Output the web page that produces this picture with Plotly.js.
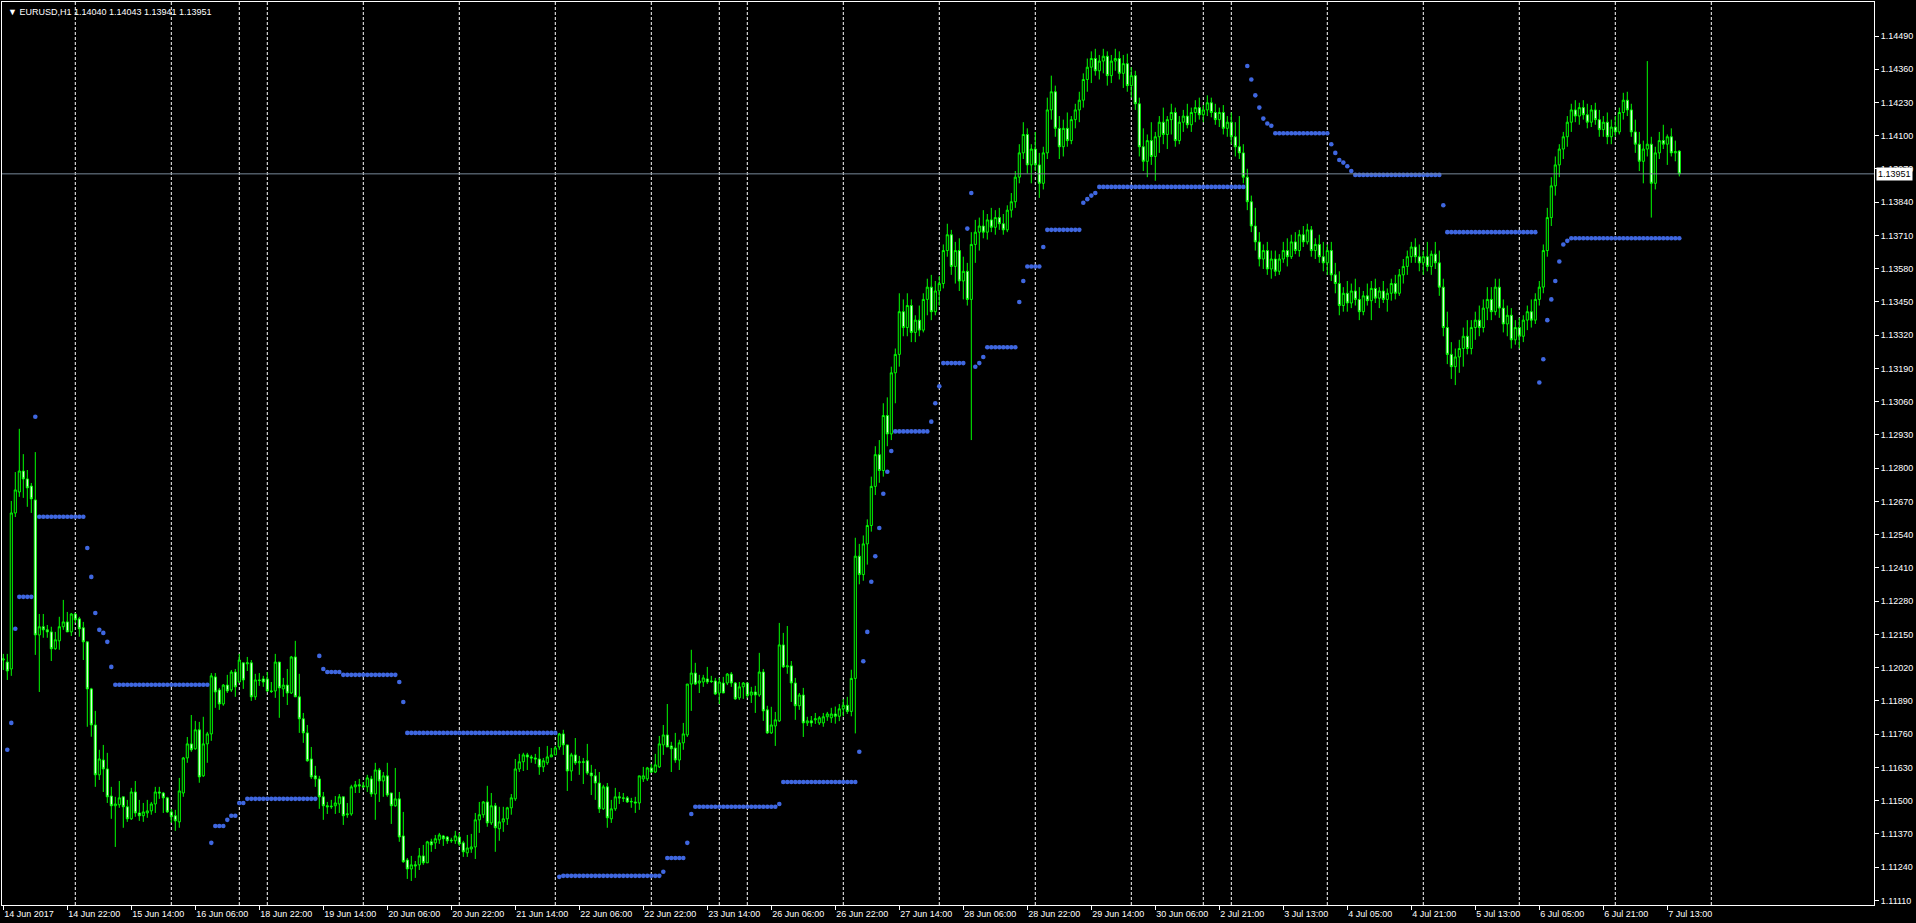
<!DOCTYPE html>
<html><head><meta charset="utf-8">
<script src="https://cdn.plot.ly/plotly-3.0.1.min.js"></script>
<style>html,body{margin:0;padding:0;background:#000;overflow:hidden}#chart{width:1916px;height:923px}</style>
</head><body><div id="chart"></div>
<script>
const dayNames = ['14 Jun','15 Jun','16 Jun','18 Jun','19 Jun','20 Jun','21 Jun','22 Jun','23 Jun','25 Jun','26 Jun','27 Jun','28 Jun','29 Jun','30 Jun','2 Jul','3 Jul','4 Jul','5 Jul','6 Jul','7 Jul','8 Jul'];
const dayStartHour = [6,0,0,17,0,0,0,0,0,17,0,0,0,0,0,17,0,0,0,0,0,0];
const dayBarCount = [18,24,17,7,24,24,24,24,17,7,24,24,24,24,18,7,24,24,24,24,24,1];

const openP = [
1.12050,1.12042,1.12015,1.12625,1.12707,1.12789,1.12758,1.12730,1.12676,1.12148,
1.12180,1.12168,1.12160,1.12094,1.12125,1.12180,1.12199,1.12160,1.12230,1.12211,
1.12176,1.12121,1.11937,1.11796,1.11601,1.11659,1.11624,1.11518,1.11480,1.11484,
1.11515,1.11476,1.11429,1.11534,1.11452,1.11441,1.11452,1.11460,1.11487,1.11534,
1.11530,1.11511,1.11456,1.11441,1.11417,1.11530,1.11667,1.11722,1.11703,1.11777,
1.11597,1.11722,1.11761,1.11984,1.11933,1.11878,1.11952,1.11933,1.12003,1.11964,
1.12039,1.12035,1.12039,1.11906,1.11972,1.11976,1.11976,1.11929,1.11929,1.12042,
1.11937,1.11952,1.11921,1.12062,1.11906,1.11820,1.11765,1.11663,1.11597,1.11585,
1.11515,1.11480,1.11476,1.11480,1.11487,1.11515,1.11445,1.11448,1.11554,1.11562,
1.11558,1.11554,1.11585,1.11526,1.11620,1.11577,1.11597,1.11530,1.11480,1.11507,
1.11362,1.11268,1.11233,1.11249,1.11249,1.11284,1.11257,1.11339,1.11335,1.11347,
1.11362,1.11358,1.11343,1.11343,1.11358,1.11335,1.11296,1.11311,1.11319,1.11425,
1.11445,1.11495,1.11413,1.11480,1.11390,1.11417,1.11429,1.11472,1.11507,1.11624,
1.11652,1.11679,1.11671,1.11667,1.11663,1.11632,1.11648,1.11671,1.11679,1.11710,
1.11761,1.11718,1.11616,1.11679,1.11648,1.11652,1.11656,1.11608,1.11597,1.11569,
1.11468,1.11554,1.11429,1.11468,1.11515,1.11511,1.11511,1.11495,1.11495,1.11491,
1.11585,1.11585,1.11628,1.11612,1.11632,1.11718,1.11757,1.11714,1.11706,1.11659,
1.11726,1.11757,1.11956,1.11999,1.11960,1.11964,1.11976,1.11968,1.11968,1.11921,
1.11960,1.11960,1.11995,1.11960,1.11902,1.11945,1.11960,1.11913,1.11925,1.11913,
1.12003,1.11855,1.11765,1.11792,1.11812,1.12109,1.12023,1.12027,1.11960,1.11871,
1.11913,1.11804,1.11812,1.11816,1.11804,1.11804,1.11828,1.11824,1.11839,1.11830,
1.11859,1.11873,1.11849,1.11978,1.12456,1.12384,1.12504,1.12576,1.12729,1.12853,
1.12791,1.13006,1.12934,1.13173,1.13245,1.13412,1.13350,1.13436,1.13331,1.13379,
1.13340,1.13460,1.13508,1.13412,1.13493,1.13522,1.13651,1.13713,1.13589,1.13651,
1.13532,1.13570,1.13460,1.13675,1.13723,1.13747,1.13723,1.13771,1.13742,1.13780,
1.13756,1.13732,1.13809,1.13842,1.13938,1.14033,1.14105,1.13986,1.14048,1.13986,
1.13914,1.14033,1.14201,1.14272,1.14129,1.14057,1.14129,1.14081,1.14163,1.14201,
1.14239,1.14320,1.14368,1.14402,1.14354,1.14392,1.14411,1.14335,1.14392,1.14402,
1.14344,1.14382,1.14296,1.14335,1.14225,1.14057,1.14000,1.14081,1.14019,1.14096,
1.14153,1.14105,1.14163,1.14191,1.14081,1.14153,1.14177,1.14143,1.14191,1.14210,
1.14182,1.14201,1.14229,1.14191,1.14163,1.14191,1.14129,1.14153,1.14096,1.14057,
1.14033,1.13938,1.13842,1.13747,1.13685,1.13618,1.13651,1.13579,1.13618,1.13570,
1.13618,1.13651,1.13627,1.13685,1.13651,1.13713,1.13685,1.13732,1.13651,1.13675,
1.13627,1.13603,1.13651,1.13556,1.13522,1.13436,1.13484,1.13446,1.13493,1.13460,
1.13412,1.13474,1.13455,1.13503,1.13465,1.13493,1.13460,1.13484,1.13522,1.13484,
1.13556,1.13589,1.13627,1.13665,1.13627,1.13603,1.13627,1.13589,1.13637,1.13603,
1.13508,1.13350,1.13245,1.13197,1.13235,1.13268,1.13316,1.13268,1.13350,1.13379,
1.13350,1.13426,1.13460,1.13412,1.13508,1.13426,1.13364,1.13398,1.13302,1.13350,
1.13316,1.13379,1.13412,1.13379,1.13460,1.13508,1.13651,1.13780,1.13904,1.13986,
1.14048,1.14096,1.14153,1.14201,1.14177,1.14210,1.14182,1.14153,1.14201,1.14163,
1.14124,1.14153,1.14096,1.14134,1.14115,1.14191,1.14239,1.14201,1.14115,1.14067,
1.14000,1.14048,1.14067,1.13914,1.14033,1.14081,1.14067,1.14096,1.14033,1.14040];
const highP = [
1.12074,1.12074,1.12672,1.12785,1.12954,1.12855,1.12793,1.12742,1.12863,1.12230,
1.12230,1.12187,1.12180,1.12160,1.12219,1.12285,1.12238,1.12234,1.12234,1.12219,
1.12199,1.12121,1.11941,1.11851,1.11699,1.11718,1.11687,1.11554,1.11515,1.11577,
1.11515,1.11503,1.11550,1.11577,1.11503,1.11491,1.11503,1.11495,1.11554,1.11554,
1.11534,1.11515,1.11468,1.11464,1.11589,1.11671,1.11749,1.11835,1.11812,1.11808,
1.11828,1.11769,1.11999,1.11999,1.11941,1.11956,1.11992,1.12011,1.12015,1.12074,
1.12039,1.12062,1.12050,1.11996,1.11999,1.11988,1.12003,1.11964,1.12074,1.12042,
1.11980,1.12015,1.12066,1.12125,1.11996,1.11843,1.11796,1.11710,1.11636,1.11597,
1.11534,1.11495,1.11503,1.11518,1.11526,1.11515,1.11491,1.11562,1.11577,1.11585,
1.11573,1.11601,1.11597,1.11648,1.11628,1.11612,1.11648,1.11530,1.11628,1.11534,
1.11456,1.11276,1.11284,1.11264,1.11315,1.11327,1.11343,1.11351,1.11366,1.11374,
1.11366,1.11362,1.11355,1.11382,1.11374,1.11343,1.11366,1.11370,1.11452,1.11495,
1.11499,1.11558,1.11530,1.11491,1.11476,1.11476,1.11476,1.11526,1.11663,1.11683,
1.11687,1.11687,1.11679,1.11683,1.11710,1.11667,1.11714,1.11706,1.11714,1.11765,
1.11777,1.11718,1.11687,1.11745,1.11675,1.11667,1.11722,1.11640,1.11624,1.11612,
1.11562,1.11569,1.11503,1.11550,1.11534,1.11530,1.11518,1.11511,1.11515,1.11597,
1.11632,1.11632,1.11644,1.11683,1.11753,1.11796,1.11878,1.11730,1.11765,1.11738,
1.11804,1.11956,1.12090,1.12039,1.11992,1.11992,1.12023,1.11988,1.11980,1.11980,
1.11984,1.11999,1.12003,1.11964,1.11964,1.11964,1.11960,1.11945,1.11949,1.12078,
1.12015,1.11871,1.11867,1.11847,1.12195,1.12156,1.12183,1.12046,1.11980,1.11921,
1.11941,1.11828,1.11831,1.11843,1.11831,1.11843,1.11847,1.11863,1.11868,1.11878,
1.11897,1.11906,1.12012,1.12528,1.12504,1.12537,1.12600,1.12767,1.12886,1.12910,
1.13054,1.13077,1.13197,1.13268,1.13484,1.13460,1.13484,1.13460,1.13398,1.13436,
1.13484,1.13541,1.13556,1.13532,1.13551,1.13675,1.13756,1.13732,1.13685,1.13699,
1.13627,1.13603,1.13723,1.13771,1.13780,1.13809,1.13794,1.13818,1.13809,1.13818,
1.13794,1.13828,1.13876,1.13962,1.14067,1.14153,1.14129,1.14067,1.14115,1.14033,
1.14057,1.14249,1.14335,1.14296,1.14177,1.14163,1.14191,1.14177,1.14225,1.14272,
1.14344,1.14402,1.14430,1.14440,1.14416,1.14440,1.14430,1.14416,1.14440,1.14430,
1.14416,1.14421,1.14368,1.14354,1.14249,1.14129,1.14105,1.14153,1.14115,1.14177,
1.14210,1.14177,1.14225,1.14210,1.14177,1.14201,1.14225,1.14210,1.14239,1.14249,
1.14220,1.14258,1.14249,1.14225,1.14210,1.14220,1.14177,1.14191,1.14153,1.14177,
1.14067,1.13971,1.13866,1.13818,1.13723,1.13675,1.13685,1.13651,1.13651,1.13637,
1.13685,1.13699,1.13713,1.13723,1.13732,1.13747,1.13756,1.13747,1.13699,1.13713,
1.13685,1.13675,1.13685,1.13603,1.13570,1.13508,1.13532,1.13522,1.13541,1.13508,
1.13493,1.13522,1.13532,1.13541,1.13508,1.13532,1.13503,1.13541,1.13556,1.13579,
1.13618,1.13651,1.13685,1.13699,1.13675,1.13651,1.13685,1.13651,1.13685,1.13651,
1.13541,1.13412,1.13293,1.13268,1.13302,1.13350,1.13379,1.13379,1.13412,1.13436,
1.13460,1.13508,1.13508,1.13541,1.13541,1.13460,1.13436,1.13426,1.13379,1.13388,
1.13398,1.13436,1.13460,1.13484,1.13532,1.13675,1.13818,1.13938,1.14019,1.14067,
1.14115,1.14177,1.14225,1.14239,1.14229,1.14239,1.14225,1.14220,1.14229,1.14201,
1.14177,1.14191,1.14163,1.14177,1.14210,1.14268,1.14272,1.14225,1.14163,1.14115,
1.14081,1.14392,1.14096,1.14057,1.14115,1.14143,1.14105,1.14129,1.14081,1.14043];
const lowP = [
1.12011,1.11972,1.11988,1.12609,1.12688,1.12684,1.12649,1.12625,1.12070,1.11925,
1.12137,1.12137,1.12046,1.12090,1.12090,1.12168,1.12160,1.12144,1.12195,1.12141,
1.12050,1.11789,1.11750,1.11554,1.11581,1.11534,1.11491,1.11429,1.11319,1.11472,
1.11394,1.11417,1.11425,1.11437,1.11421,1.11417,1.11433,1.11445,1.11452,1.11507,
1.11452,1.11452,1.11413,1.11382,1.11394,1.11515,1.11648,1.11691,1.11699,1.11570,
1.11593,1.11648,1.11734,1.11863,1.11855,1.11871,1.11921,1.11925,1.11906,1.11960,
1.11937,1.12007,1.11890,1.11894,1.11949,1.11945,1.11925,1.11921,1.11902,1.11824,
1.11906,1.11874,1.11917,1.11906,1.11765,1.11726,1.11652,1.11585,1.11554,1.11468,
1.11425,1.11448,1.11468,1.11448,1.11452,1.11405,1.11433,1.11441,1.11530,1.11530,
1.11550,1.11534,1.11515,1.11425,1.11495,1.11515,1.11515,1.11409,1.11476,1.11339,
1.11257,1.11194,1.11186,1.11198,1.11229,1.11249,1.11257,1.11300,1.11311,1.11331,
1.11323,1.11331,1.11335,1.11331,1.11323,1.11280,1.11280,1.11296,1.11272,1.11374,
1.11433,1.11398,1.11405,1.11300,1.11343,1.11378,1.11405,1.11445,1.11499,1.11612,
1.11616,1.11620,1.11648,1.11644,1.11601,1.11612,1.11640,1.11671,1.11679,1.11699,
1.11679,1.11538,1.11577,1.11640,1.11601,1.11565,1.11601,1.11522,1.11503,1.11452,
1.11464,1.11394,1.11413,1.11460,1.11487,1.11495,1.11491,1.11472,1.11452,1.11464,
1.11573,1.11577,1.11608,1.11608,1.11628,1.11679,1.11710,1.11612,1.11648,1.11620,
1.11699,1.11749,1.11851,1.11952,1.11921,1.11945,1.11956,1.11960,1.11913,1.11878,
1.11921,1.11952,1.11945,1.11894,1.11894,1.11898,1.11902,1.11882,1.11843,1.11906,
1.11812,1.11761,1.11761,1.11714,1.11808,1.12019,1.11996,1.11886,1.11816,1.11855,
1.11749,1.11792,1.11789,1.11800,1.11796,1.11789,1.11812,1.11804,1.11801,1.11811,
1.11830,1.11839,1.11830,1.11763,1.12346,1.12360,1.12423,1.12552,1.12695,1.12743,
1.12767,1.12886,1.12910,1.13054,1.13197,1.13316,1.13316,1.13293,1.13293,1.13316,
1.13331,1.13398,1.13379,1.13398,1.13436,1.13503,1.13627,1.13556,1.13522,1.13493,
1.13460,1.13436,1.12910,1.13603,1.13651,1.13699,1.13694,1.13723,1.13713,1.13732,
1.13713,1.13723,1.13780,1.13818,1.13914,1.14009,1.13952,1.13914,1.13962,1.13857,
1.13890,1.14009,1.14163,1.14096,1.14009,1.14019,1.14057,1.14067,1.14129,1.14153,
1.14210,1.14272,1.14306,1.14335,1.14320,1.14344,1.14296,1.14306,1.14354,1.14320,
1.14287,1.14272,1.14249,1.14201,1.14019,1.13962,1.13938,1.13986,1.13924,1.14033,
1.14067,1.14048,1.14105,1.14057,1.14067,1.14115,1.14129,1.14115,1.14153,1.14163,
1.14153,1.14177,1.14172,1.14143,1.14134,1.14105,1.14096,1.14067,1.14019,1.14009,
1.13914,1.13809,1.13723,1.13651,1.13589,1.13579,1.13556,1.13541,1.13551,1.13556,
1.13603,1.13589,1.13618,1.13637,1.13627,1.13665,1.13675,1.13627,1.13618,1.13603,
1.13570,1.13556,1.13532,1.13484,1.13398,1.13412,1.13412,1.13426,1.13436,1.13379,
1.13398,1.13436,1.13379,1.13446,1.13426,1.13446,1.13412,1.13455,1.13460,1.13474,
1.13522,1.13556,1.13603,1.13603,1.13570,1.13556,1.13570,1.13556,1.13579,1.13474,
1.13316,1.13207,1.13149,1.13125,1.13173,1.13197,1.13245,1.13245,1.13302,1.13316,
1.13331,1.13379,1.13379,1.13398,1.13388,1.13331,1.13316,1.13268,1.13283,1.13268,
1.13293,1.13340,1.13350,1.13364,1.13436,1.13484,1.13627,1.13747,1.13866,1.13938,
1.14009,1.14057,1.14115,1.14153,1.14143,1.14163,1.14129,1.14134,1.14143,1.14096,
1.14096,1.14067,1.14067,1.14096,1.14105,1.14163,1.14177,1.14096,1.14033,1.13962,
1.13914,1.14019,1.13780,1.13890,1.14009,1.14048,1.13986,1.14019,1.14000,1.13941];
const closeP = [
1.12054,1.12007,1.12625,1.12715,1.12789,1.12758,1.12723,1.12680,1.12148,1.12180,
1.12168,1.12160,1.12094,1.12129,1.12180,1.12199,1.12160,1.12230,1.12207,1.12172,
1.12121,1.11937,1.11796,1.11601,1.11663,1.11624,1.11515,1.11480,1.11487,1.11511,
1.11476,1.11429,1.11534,1.11452,1.11441,1.11456,1.11460,1.11487,1.11534,1.11530,
1.11511,1.11456,1.11437,1.11421,1.11538,1.11667,1.11722,1.11699,1.11777,1.11593,
1.11722,1.11761,1.11988,1.11925,1.11878,1.11952,1.11929,1.12003,1.11945,1.12050,
1.11972,1.12039,1.11906,1.11972,1.11970,1.11964,1.11929,1.11927,1.12042,1.11941,
1.11952,1.11921,1.12062,1.11906,1.11820,1.11765,1.11656,1.11593,1.11585,1.11515,
1.11480,1.11476,1.11478,1.11491,1.11515,1.11441,1.11448,1.11554,1.11562,1.11558,
1.11554,1.11589,1.11526,1.11620,1.11577,1.11597,1.11522,1.11480,1.11507,1.11358,
1.11261,1.11233,1.11249,1.11245,1.11284,1.11257,1.11339,1.11327,1.11351,1.11366,
1.11351,1.11343,1.11345,1.11362,1.11331,1.11300,1.11315,1.11319,1.11425,1.11445,
1.11495,1.11413,1.11480,1.11394,1.11417,1.11429,1.11472,1.11511,1.11624,1.11652,
1.11679,1.11671,1.11667,1.11663,1.11632,1.11656,1.11671,1.11679,1.11706,1.11761,
1.11718,1.11616,1.11679,1.11648,1.11652,1.11650,1.11608,1.11597,1.11569,1.11468,
1.11554,1.11433,1.11468,1.11515,1.11511,1.11509,1.11495,1.11497,1.11491,1.11597,
1.11597,1.11628,1.11612,1.11640,1.11722,1.11757,1.11710,1.11703,1.11659,1.11726,
1.11761,1.11956,1.11999,1.11956,1.11968,1.11980,1.11964,1.11966,1.11917,1.11964,
1.11921,1.11995,1.11960,1.11898,1.11945,1.11960,1.11910,1.11925,1.11913,1.12003,
1.11851,1.11765,1.11796,1.11816,1.12109,1.12023,1.12027,1.11960,1.11871,1.11913,
1.11804,1.11812,1.11804,1.11820,1.11824,1.11828,1.11839,1.11839,1.11830,1.11859,
1.11873,1.11849,1.11978,1.12456,1.12384,1.12504,1.12576,1.12729,1.12853,1.12791,
1.13006,1.12934,1.13173,1.13245,1.13412,1.13350,1.13436,1.13331,1.13379,1.13340,
1.13460,1.13508,1.13412,1.13493,1.13522,1.13651,1.13713,1.13589,1.13651,1.13532,
1.13570,1.13460,1.13675,1.13723,1.13747,1.13723,1.13771,1.13742,1.13780,1.13756,
1.13732,1.13809,1.13842,1.13938,1.14033,1.14105,1.13986,1.14048,1.13986,1.13914,
1.14033,1.14201,1.14272,1.14129,1.14057,1.14129,1.14081,1.14163,1.14201,1.14239,
1.14320,1.14368,1.14402,1.14354,1.14392,1.14411,1.14335,1.14392,1.14402,1.14344,
1.14382,1.14296,1.14335,1.14225,1.14057,1.14000,1.14081,1.14019,1.14096,1.14153,
1.14105,1.14163,1.14191,1.14081,1.14153,1.14177,1.14143,1.14191,1.14210,1.14182,
1.14201,1.14229,1.14191,1.14163,1.14191,1.14129,1.14153,1.14096,1.14057,1.14033,
1.13938,1.13842,1.13747,1.13685,1.13618,1.13651,1.13579,1.13618,1.13570,1.13618,
1.13651,1.13627,1.13685,1.13651,1.13713,1.13685,1.13732,1.13651,1.13675,1.13627,
1.13603,1.13651,1.13556,1.13522,1.13436,1.13484,1.13446,1.13493,1.13460,1.13412,
1.13474,1.13455,1.13503,1.13465,1.13493,1.13460,1.13484,1.13522,1.13484,1.13556,
1.13589,1.13627,1.13665,1.13627,1.13603,1.13627,1.13589,1.13637,1.13603,1.13508,
1.13350,1.13245,1.13197,1.13235,1.13268,1.13316,1.13268,1.13350,1.13379,1.13350,
1.13426,1.13460,1.13412,1.13508,1.13426,1.13364,1.13398,1.13302,1.13350,1.13316,
1.13379,1.13412,1.13379,1.13460,1.13508,1.13651,1.13780,1.13904,1.13986,1.14048,
1.14096,1.14153,1.14201,1.14177,1.14210,1.14182,1.14153,1.14201,1.14163,1.14124,
1.14153,1.14096,1.14134,1.14115,1.14191,1.14239,1.14201,1.14115,1.14067,1.14000,
1.14048,1.14067,1.13914,1.14033,1.14081,1.14067,1.14096,1.14033,1.14038,1.13951];
const sarP = [
null,1.11699,1.11804,1.12172,1.12297,1.12297,1.12297,1.12297,1.13001,1.12610,
1.12610,1.12610,1.12610,1.12610,1.12610,1.12610,1.12610,1.12610,1.12610,1.12610,
1.12610,1.12488,1.12375,1.12234,1.12168,1.12156,1.12121,1.12023,1.11953,1.11953,
1.11953,1.11953,1.11953,1.11953,1.11953,1.11953,1.11953,1.11953,1.11953,1.11953,
1.11953,1.11953,1.11953,1.11953,1.11953,1.11953,1.11953,1.11953,1.11953,1.11953,
1.11953,1.11953,1.11335,1.11401,1.11401,1.11401,1.11425,1.11441,1.11441,1.11491,
1.11491,1.11507,1.11507,1.11507,1.11507,1.11507,1.11507,1.11507,1.11507,1.11507,
1.11507,1.11507,1.11507,1.11507,1.11507,1.11507,1.11507,1.11507,1.11507,1.12066,
1.12015,1.12003,1.12003,1.12003,1.12003,1.11992,1.11992,1.11992,1.11992,1.11992,
1.11992,1.11992,1.11992,1.11992,1.11992,1.11992,1.11992,1.11992,1.11992,1.11964,
1.11886,1.11765,1.11765,1.11765,1.11765,1.11765,1.11765,1.11765,1.11765,1.11765,
1.11765,1.11765,1.11765,1.11765,1.11765,1.11765,1.11765,1.11765,1.11765,1.11765,
1.11765,1.11765,1.11765,1.11765,1.11765,1.11765,1.11765,1.11765,1.11765,1.11765,
1.11765,1.11765,1.11765,1.11765,1.11765,1.11765,1.11765,1.11765,1.11765,1.11202,
1.11206,1.11206,1.11206,1.11206,1.11206,1.11206,1.11206,1.11206,1.11206,1.11206,
1.11206,1.11206,1.11206,1.11206,1.11206,1.11206,1.11206,1.11206,1.11206,1.11206,
1.11206,1.11206,1.11206,1.11206,1.11206,1.11222,1.11276,1.11276,1.11276,1.11276,
1.11276,1.11335,1.11448,1.11476,1.11476,1.11476,1.11476,1.11476,1.11476,1.11476,
1.11476,1.11476,1.11476,1.11476,1.11476,1.11476,1.11476,1.11476,1.11476,1.11476,
1.11476,1.11476,1.11476,1.11476,1.11487,1.11573,1.11573,1.11573,1.11573,1.11573,
1.11573,1.11573,1.11573,1.11573,1.11573,1.11573,1.11573,1.11573,1.11573,1.11573,
1.11573,1.11573,1.11573,1.11573,1.11691,1.12045,1.12160,1.12356,1.12456,1.12566,
1.12700,1.12786,1.12867,1.12944,1.12944,1.12944,1.12944,1.12944,1.12944,1.12944,
1.12944,1.12944,1.12982,1.13054,1.13120,1.13211,1.13211,1.13211,1.13211,1.13211,
1.13211,1.13737,1.13876,1.13197,1.13211,1.13235,1.13273,1.13273,1.13273,1.13273,
1.13273,1.13273,1.13273,1.13273,1.13450,1.13532,1.13589,1.13589,1.13589,1.13589,
1.13665,1.13732,1.13732,1.13732,1.13732,1.13732,1.13732,1.13732,1.13732,1.13732,
1.13838,1.13852,1.13866,1.13876,1.13900,1.13900,1.13900,1.13900,1.13900,1.13900,
1.13900,1.13900,1.13900,1.13900,1.13900,1.13900,1.13900,1.13900,1.13900,1.13900,
1.13900,1.13900,1.13900,1.13900,1.13900,1.13900,1.13900,1.13900,1.13900,1.13900,
1.13900,1.13900,1.13900,1.13900,1.13900,1.13900,1.13900,1.13900,1.13900,1.13900,
1.13900,1.14373,1.14320,1.14258,1.14210,1.14167,1.14148,1.14139,1.14110,1.14110,
1.14110,1.14110,1.14110,1.14110,1.14110,1.14110,1.14110,1.14110,1.14110,1.14110,
1.14110,1.14110,1.14067,1.14033,1.14005,1.13995,1.13981,1.13962,1.13947,1.13947,
1.13947,1.13947,1.13947,1.13947,1.13947,1.13947,1.13947,1.13947,1.13947,1.13947,
1.13947,1.13947,1.13947,1.13947,1.13947,1.13947,1.13947,1.13947,1.13947,1.13947,
1.13828,1.13723,1.13723,1.13723,1.13723,1.13723,1.13723,1.13723,1.13723,1.13723,
1.13723,1.13723,1.13723,1.13723,1.13723,1.13723,1.13723,1.13723,1.13723,1.13723,
1.13723,1.13723,1.13723,1.13723,1.13135,1.13226,1.13379,1.13460,1.13532,1.13608,
1.13675,1.13689,1.13699,1.13699,1.13699,1.13699,1.13699,1.13699,1.13699,1.13699,
1.13699,1.13699,1.13699,1.13699,1.13699,1.13699,1.13699,1.13699,1.13699,1.13699,
1.13699,1.13699,1.13699,1.13699,1.13699,1.13699,1.13699,1.13699,1.13699,1.13699];

const priceTickLabels = ['1.11110','1.11240','1.11370','1.11500','1.11630','1.11760','1.11890','1.12020','1.12150','1.12280','1.12410','1.12540','1.12670','1.12800','1.12930','1.13060','1.13190','1.13320','1.13450','1.13580','1.13710','1.13840','1.13970','1.14100','1.14230','1.14360','1.14490'];
const bidPrice = 1.13951;
const headerText = '\u25BC EURUSD,H1 1.14040 1.14043 1.13941 1.13951';

// bar calendar from the session table
const barDay = [], barHour = [], barFirst = [];
dayNames.forEach((d, k) => {
  for (let h = 0; h < dayBarCount[k]; h++) { barDay.push(d); barHour.push(dayStartHour[k] + h); barFirst.push(h === 0); }
});
const tickIdx = [], tickTxt = [];
for (let i = 0; i < barDay.length; i += 16) {
  tickIdx.push(i);
  tickTxt.push(i === 0 ? barDay[i] + ' 2017' : barDay[i] + ' ' + String(barHour[i]).padStart(2, '0') + ':00');
}
const idx = closeP.map((_, i) => i);

const shapes = [];
barFirst.forEach((f, i) => {
  if (f && i > 0) shapes.push({type:'line', xref:'x', yref:'paper', x0:i, x1:i, y0:0, y1:1, layer:'below',
    line:{color:'#ffffff', width:1, dash:'3px,2px'}});
});
shapes.push({type:'line', xref:'paper', yref:'y', x0:0, x1:1, y0:bidPrice, y1:bidPrice, layer:'above',
  line:{color:'#778899', width:1}});

const candles = {
  type:'candlestick', x:idx, open:openP, high:highP, low:lowP, close:closeP,
  increasing:{line:{color:'#00ff00', width:1}, fillcolor:'#000000'},
  decreasing:{line:{color:'#00ff00', width:1}, fillcolor:'#ffffff'},
  whiskerwidth:0, hoverinfo:'skip'
};
const sar = {
  type:'scatter', mode:'markers', x:idx.slice(0, sarP.length), y:sarP,
  marker:{color:'#3f67e0', size:4.6, line:{width:0}}, hoverinfo:'skip'
};

const font = 'Liberation Sans, Arial, sans-serif';
const layout = {
  width:1916, height:923, paper_bgcolor:'#000000', plot_bgcolor:'#000000',
  margin:{l:2, r:42, t:2, b:18, pad:0}, showlegend:false, boxgap:0.25,
  font:{family:font, size:9, color:'#ffffff'},
  xaxis:{range:[-0.325, 467.675], showgrid:false, zeroline:false, showline:true, mirror:true,
    linecolor:'#ffffff', linewidth:1, tickmode:'array', tickvals:tickIdx, ticktext:tickTxt,
    ticks:'outside', ticklen:4, tickcolor:'#ffffff', ticklabelposition:'outside right',
    tickfont:{family:font, size:9, color:'#ffffff'}, rangeslider:{visible:false}, fixedrange:true},
  yaxis:{side:'right', range:[1.11092, 1.14623], showgrid:false, zeroline:false, showline:true, mirror:true,
    linecolor:'#ffffff', linewidth:1, tickmode:'array', tickvals:priceTickLabels.map(Number), ticktext:priceTickLabels,
    ticks:'outside', ticklen:4, tickcolor:'#ffffff', tickfont:{family:font, size:9, color:'#ffffff'}, fixedrange:true},
  shapes:shapes,
  annotations:[
    {xref:'paper', yref:'paper', x:0, y:1, xanchor:'left', yanchor:'top', xshift:4, yshift:-3, showarrow:false,
     text:headerText, font:{family:font, size:9, color:'#ffffff'}},
    {xref:'paper', yref:'y', x:1, y:bidPrice, xanchor:'left', yanchor:'middle', xshift:2, showarrow:false,
     text:'1.13951', bgcolor:'#ffffff', borderpad:1, font:{family:font, size:9, color:'#000000'}}
  ]
};
Plotly.newPlot('chart', [candles, sar], layout, {displayModeBar:false, staticPlot:true});
</script>
</body></html>
